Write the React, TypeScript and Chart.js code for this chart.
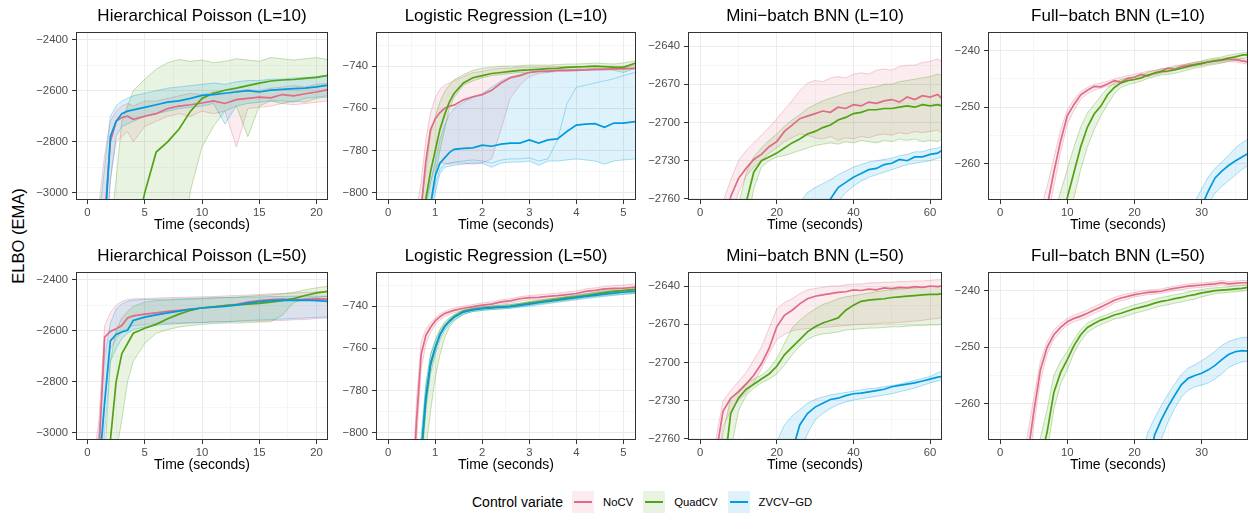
import React, { useEffect, useRef } from 'react';
import { Chart, registerables } from 'chart.js';

Chart.register(...registerables);

const FONT = "'Liberation Sans', Arial, Helvetica, sans-serif";
Chart.defaults.font.family = FONT;

const SERIES_NAMES = ['NoCV', 'QuadCV', 'ZVCV\u2212GD'];
const SERIES_RGB = ['225,106,134', '80,163,21', '0,154,222'];
const SERIES_HEX = ['#E16A86', '#50A315', '#009ADE'];

// ---------- x grids (seconds) ----------
const HP_X = [0, 1, 1.5, 2, 2.5, 3, 3.5, 4, 5, 6, 7, 8, 9, 10, 11, 12, 13, 14, 15, 16, 17, 18, 19, 20, 21];
const LR_X = [0, 0.5, 0.6, 0.7, 0.8, 0.9, 1.0, 1.1, 1.2, 1.3, 1.4, 1.6, 1.8, 2.0, 2.2, 2.4, 2.6, 2.8, 3.0, 3.2, 3.4, 3.6, 3.8, 4.0, 4.2, 4.4, 4.6, 4.8, 5.0, 5.25];
const MB_X = [0, 2, 4, 6, 8, 10, 12, 14, 16, 18, 20, 22, 24, 26, 28, 30, 32, 34, 36, 38, 40, 42, 44, 46, 48, 50, 52, 54, 56, 58, 60, 62, 63];
const FB_X = [0, 2, 4, 5, 6, 7, 8, 9, 10, 11, 12, 13, 14, 15, 16, 17, 18, 19, 20, 21, 22, 23, 24, 25, 26, 27, 28, 29, 30, 31, 32, 33, 34, 35, 36, 36.9];

// ---------- tick labels ----------
const HP_XTICKS = [0, 5, 10, 15, 20];
const HP_XMINOR = [2.5, 7.5, 12.5, 17.5];
const LR_XTICKS = [0, 1, 2, 3, 4, 5];
const LR_XMINOR = [0.5, 1.5, 2.5, 3.5, 4.5];
const MB_XTICKS = [0, 20, 40, 60];
const MB_XMINOR = [10, 30, 50];
const FB_XTICKS = [0, 10, 20, 30];
const FB_XMINOR = [5, 15, 25, 35];
const HP_YTICKS = [-3000, -2800, -2600, -2400];
const HP_YMINOR = [-2900, -2700, -2500];
const LR_YTICKS = [-800, -780, -760, -740];
const LR_YMINOR = [-790, -770, -750, -730];
const MB_YTICKS = [-2760, -2730, -2700, -2670, -2640];
const MB_YMINOR = [-2745, -2715, -2685, -2655];
const FB_YTICKS = [-260, -250, -240];
const FB_YMINOR = [-265, -255, -245];

// ---------- Hierarchical Poisson (L=10) ----------
const HP10_NOCV_MEAN = [-3400, -3300, -3100, -2800, -2720, -2705, -2700, -2712, -2700, -2690, -2670, -2660, -2655, -2648, -2640, -2650, -2635, -2630, -2625, -2628, -2615, -2620, -2612, -2605, -2596];
const HP10_NOCV_LO = [-3500, -3400, -3300, -2950, -2800, -2780, -2760, -2800, -2740, -2720, -2700, -2690, -2700, -2680, -2690, -2680, -2820, -2670, -2665, -2660, -2650, -2655, -2650, -2645, -2640];
const HP10_NOCV_HI = [-3300, -3050, -2850, -2720, -2680, -2660, -2650, -2660, -2640, -2640, -2630, -2620, -2610, -2615, -2605, -2610, -2600, -2595, -2600, -2590, -2585, -2580, -2585, -2575, -2570];
const HP10_QUAD_MEAN = [-3600, -3550, -3500, -3450, -3400, -3350, -3300, -3200, -3000, -2840, -2800, -2750, -2680, -2630, -2610, -2598, -2590, -2580, -2570, -2562, -2558, -2556, -2552, -2548, -2540];
const HP10_QUAD_LO = [-3700, -3650, -3600, -3550, -3500, -3480, -3450, -3420, -3400, -3380, -3350, -3300, -2990, -2820, -2740, -2680, -2660, -2780, -2660, -2640, -2650, -2640, -2645, -2630, -2625];
const HP10_QUAD_HI = [-3600, -3400, -3250, -3150, -2950, -2720, -2660, -2600, -2555, -2515, -2490, -2478, -2485, -2480, -2490, -2485, -2475, -2480, -2485, -2470, -2475, -2480, -2475, -2470, -2478];
const HP10_ZV_MEAN = [-3400, -3300, -3150, -2780, -2720, -2690, -2680, -2675, -2665, -2655, -2645, -2640, -2630, -2618, -2615, -2610, -2605, -2600, -2605, -2598, -2595, -2592, -2590, -2585, -2578];
const HP10_ZV_LO = [-3500, -3400, -3300, -2950, -2780, -2740, -2730, -2720, -2700, -2690, -2680, -2670, -2665, -2660, -2650, -2730, -2660, -2650, -2645, -2640, -2640, -2645, -2630, -2625, -2620];
const HP10_ZV_HI = [-3300, -3100, -2900, -2700, -2660, -2640, -2630, -2620, -2610, -2600, -2590, -2585, -2580, -2575, -2570, -2575, -2565, -2560, -2560, -2555, -2555, -2550, -2548, -2545, -2540];

// ---------- Logistic Regression (L=10) ----------
const LR10_NOCV_MEAN = [-840, -825, -818, -808, -785, -770, -765, -762, -760, -759, -758.5, -756, -754.5, -753.5, -751.5, -748, -745.5, -744.5, -743, -742.5, -742.5, -742, -742, -742, -741.8, -741.5, -741.5, -741.3, -741.2, -741];
const LR10_NOCV_LO = [-850, -835, -828, -820, -805, -795, -788, -786, -786, -786.5, -786, -786, -786.5, -786, -784, -770, -755, -749, -745, -743.5, -743, -742.5, -742.5, -742, -742, -742, -741.8, -741.5, -741.5, -741.5];
const LR10_NOCV_HI = [-830, -815, -808, -795, -775, -762, -755, -751, -749, -748, -747, -745, -743, -742.5, -741.5, -741, -741, -740.5, -740.5, -740.5, -740.3, -740.2, -740.3, -740.2, -740, -740, -740, -740, -740, -739.5];
const LR10_QUAD_MEAN = [-850, -830, -823, -815, -803, -790, -780, -770, -763, -757, -753, -748, -745.5, -744.5, -743.5, -743, -742.5, -742, -741.8, -741.5, -741.2, -741, -740.6, -740.3, -740.2, -740, -740.2, -740.5, -740.6, -738.6];
const LR10_QUAD_LO = [-860, -840, -832, -825, -815, -805, -792, -780, -770, -760, -755, -749, -747, -745.5, -744.5, -744, -743.5, -743, -743, -742.5, -742.5, -742, -742, -741.8, -741.5, -741.5, -741.5, -742, -743, -741];
const LR10_QUAD_HI = [-840, -820, -812, -805, -790, -772, -764, -757, -752, -749, -746.5, -744, -742, -741, -740.5, -740, -740, -739.8, -739.5, -739.5, -739.5, -739.3, -739, -739, -738.8, -738.5, -738.8, -739, -738.5, -737.5];
const LR10_ZV_MEAN = [-860, -840, -832, -825, -815, -806, -792, -786, -783.5, -781, -779.5, -779, -778.8, -777.5, -778, -777, -776.5, -776.5, -775, -776.5, -775, -774.5, -771, -768, -767.5, -767.3, -769, -767, -767, -766.3];
const LR10_ZV_LO = [-870, -850, -842, -835, -822, -812, -800, -791, -788, -787.5, -787, -786.5, -786, -786, -788, -786, -785.5, -785.5, -785, -787, -785, -785, -784.5, -784, -784.5, -785, -786.5, -785, -784.5, -784];
const LR10_ZV_HI = [-850, -830, -822, -815, -805, -795, -785, -775, -768, -763, -760, -757, -755, -753, -750, -747, -745, -744, -743, -742.5, -742, -742, -741.8, -741.5, -741.5, -741.3, -741.2, -741, -741, -741];
const LR10_ZV_RUN = [-865, -845, -840, -830, -818, -808, -796, -789, -786.5, -786, -785.5, -785, -784.5, -785, -786, -784.5, -784, -784, -783.5, -785, -784, -775, -758, -750, -749, -748, -747, -746, -744.5, -743];

// ---------- Mini-batch BNN (L=10) ----------
const MB10_NOCV_MEAN = [-2850, -2830, -2805, -2790, -2758, -2744, -2736, -2729, -2725, -2719, -2715, -2707, -2702, -2697, -2695, -2693, -2691, -2692, -2688, -2689, -2686, -2687, -2684, -2685, -2683, -2682, -2684, -2680, -2682, -2679, -2680, -2678, -2681];
const MB10_NOCV_LO = [-2870, -2850, -2825, -2800, -2775, -2755, -2742, -2735, -2730, -2724, -2720, -2715, -2712, -2709, -2710, -2712, -2713, -2711, -2714, -2712, -2713, -2711, -2712, -2710, -2709, -2710, -2708, -2709, -2707, -2708, -2707, -2706, -2708];
const MB10_NOCV_HI = [-2830, -2810, -2785, -2762, -2745, -2730, -2722, -2716, -2710, -2704, -2697, -2690, -2683, -2675, -2669, -2667, -2668, -2665, -2664, -2665, -2662, -2661, -2662, -2659, -2658, -2659, -2656, -2655, -2655, -2653, -2652, -2650, -2652];
const MB10_QUAD_MEAN = [-2900, -2880, -2860, -2840, -2815, -2790, -2763, -2739, -2730, -2727, -2724, -2720, -2716, -2713, -2709, -2707, -2704, -2702, -2698, -2696, -2693, -2692, -2690, -2690, -2689, -2689, -2688, -2687, -2688, -2686, -2687, -2686, -2687];
const MB10_QUAD_LO = [-2920, -2900, -2880, -2860, -2835, -2810, -2785, -2752, -2735, -2730, -2727, -2726, -2724, -2722, -2720, -2718, -2717, -2716, -2717, -2715, -2716, -2714, -2715, -2716, -2714, -2715, -2713, -2714, -2713, -2715, -2714, -2715, -2713];
const MB10_QUAD_HI = [-2880, -2860, -2840, -2815, -2790, -2765, -2740, -2727, -2720, -2714, -2709, -2703, -2698, -2694, -2689, -2686, -2683, -2681, -2679, -2677, -2676, -2674, -2673, -2672, -2670, -2670, -2668, -2667, -2666, -2665, -2664, -2662, -2663];
const MB10_ZV_MEAN = [-3000, -2990, -2980, -2970, -2955, -2940, -2925, -2910, -2895, -2880, -2860, -2840, -2820, -2805, -2790, -2780, -2770, -2760, -2751, -2747, -2743, -2740, -2737, -2736, -2733, -2732, -2729, -2730, -2727, -2727, -2725, -2724, -2722];
const MB10_ZV_LO = [-3020, -3010, -3000, -2990, -2980, -2965, -2950, -2935, -2920, -2905, -2890, -2870, -2850, -2830, -2810, -2795, -2782, -2770, -2762, -2755, -2750, -2746, -2743, -2741, -2739, -2737, -2735, -2733, -2732, -2731, -2730, -2728, -2727];
const MB10_ZV_HI = [-2980, -2965, -2950, -2935, -2920, -2905, -2890, -2870, -2850, -2830, -2810, -2790, -2775, -2763, -2755, -2751, -2748, -2745, -2741, -2738, -2735, -2733, -2731, -2730, -2729, -2728, -2726, -2725, -2723, -2723, -2721, -2720, -2719];

// ---------- Full-batch BNN (L=10) ----------
const FB10_NOCV_MEAN = [-300, -290, -280, -276, -272, -267.5, -261.5, -256, -251.5, -249.5, -247.8, -247, -246.3, -246.4, -245.9, -245.3, -245.6, -244.9, -244.7, -244.2, -244.5, -243.9, -243.6, -243.1, -243.3, -242.8, -242.6, -242.4, -242.2, -242, -241.8, -241.7, -241.5, -241.6, -241.8, -242];
const FB10_NOCV_LO = [-305, -295, -285, -280.5, -276, -270, -264, -258, -253, -250.5, -248.6, -247.6, -247, -246.6, -246.3, -246, -245.7, -245.3, -245.1, -244.8, -244.4, -244.3, -244, -243.8, -243.3, -243.2, -243, -242.8, -242.6, -242.4, -242.2, -242.1, -241.9, -242, -242.2, -242.4];
const FB10_NOCV_HI = [-295, -285, -275, -271.5, -268, -264, -259, -254, -250.5, -248.6, -247.2, -246.5, -246, -245.7, -245.4, -245, -244.7, -244.4, -244.2, -243.9, -243.6, -243.5, -243.2, -243, -242.6, -242.5, -242.3, -242.1, -241.9, -241.7, -241.5, -241.4, -241.2, -241.3, -241.4, -241.6];
const FB10_QUAD_MEAN = [-310, -300, -290, -286, -282, -278, -274, -270, -266, -261.5, -257, -253.5, -251.2, -249.8, -247.8, -246.5, -245.7, -245.3, -245.1, -244.8, -244.3, -244, -243.7, -243.6, -243.4, -243.1, -242.8, -242.5, -242.3, -242, -241.8, -241.6, -241.3, -241.1, -240.8, -240.7];
const FB10_QUAD_LO = [-315, -305, -295, -291, -287, -283, -279, -275, -271, -266, -261, -257, -254, -251.5, -249.5, -247.6, -246.5, -246, -245.7, -245.4, -244.9, -244.6, -244.3, -244.2, -244, -243.7, -243.4, -243.1, -242.9, -242.6, -242.4, -242.2, -241.9, -241.7, -241.4, -241.2];
const FB10_QUAD_HI = [-305, -295, -285, -281, -277, -273, -269, -265, -261, -257, -253.5, -251, -249.5, -248, -246.6, -245.7, -245.1, -244.8, -244.6, -244.3, -243.8, -243.5, -243.2, -243.1, -242.9, -242.6, -242.3, -242, -241.8, -241.5, -241.3, -241.1, -240.8, -240.6, -240.4, -240.3];
const FB10_ZV_MEAN = [-330, -325, -320, -317.5, -315, -312, -310, -307, -305, -302, -300, -298, -296, -294, -292, -290, -288, -286, -284, -282, -280, -278.5, -277, -275.5, -274, -272.5, -271, -269.5, -267.5, -264.8, -262.5, -261.3, -260.3, -259.5, -258.8, -258.2];
const FB10_ZV_LO = [-332.5, -327.5, -322.5, -320, -317.5, -314.5, -312.5, -309.5, -307.5, -304.5, -302.5, -300.5, -298.5, -296.5, -294.5, -292.5, -290.5, -288.5, -286.5, -284.5, -282.5, -281, -279.5, -278, -276.5, -275, -273.5, -272, -270, -267, -265.2, -264, -263, -262, -261, -260.3];
const FB10_ZV_HI = [-327.5, -322.5, -317.5, -315, -312.5, -309.5, -307.5, -304.5, -302.5, -299.5, -297.5, -295.5, -293.5, -291.5, -289.5, -287.5, -285.5, -283.5, -281.5, -279.5, -277.5, -276, -274.5, -273, -271.5, -270, -268.5, -266.6, -264.5, -262.3, -260.8, -259.7, -258.5, -257.2, -256.3, -255.6];

// ---------- Hierarchical Poisson (L=50) ----------
const HP50_NOCV_MEAN = [-3400, -3080, -2625, -2603, -2592, -2580, -2550, -2542, -2535, -2530, -2524, -2520, -2515, -2511, -2507, -2502, -2497, -2488, -2482, -2478, -2476, -2479, -2477, -2475, -2476];
const HP50_NOCV_LO = [-3500, -3300, -2900, -2674, -2630, -2605, -2590, -2580, -2576, -2572, -2570, -2570, -2568, -2568, -2565, -2565, -2563, -2562, -2562, -2560, -2560, -2557, -2556, -2552, -2550];
const HP50_NOCV_HI = [-3300, -2950, -2580, -2530, -2500, -2485, -2478, -2475, -2474, -2472, -2470, -2470, -2468, -2467, -2466, -2464, -2462, -2460, -2458, -2455, -2455, -2452, -2450, -2448, -2446];
const HP50_QUAD_MEAN = [-3600, -3400, -3250, -3030, -2800, -2690, -2650, -2610, -2590, -2575, -2553, -2535, -2520, -2510, -2506, -2502, -2499, -2496, -2493, -2488, -2482, -2474, -2462, -2452, -2446];
const HP50_QUAD_LO = [-3700, -3500, -3350, -3200, -3080, -2950, -2800, -2720, -2650, -2610, -2596, -2585, -2580, -2575, -2572, -2570, -2570, -2568, -2566, -2565, -2540, -2490, -2475, -2470, -2465];
const HP50_QUAD_HI = [-3500, -3300, -3100, -2720, -2600, -2550, -2525, -2505, -2488, -2482, -2480, -2478, -2476, -2475, -2472, -2470, -2468, -2465, -2462, -2460, -2455, -2450, -2440, -2432, -2426];
const HP50_ZV_MEAN = [-3400, -3150, -2880, -2640, -2615, -2605, -2598, -2560, -2547, -2538, -2530, -2523, -2516, -2511, -2508, -2505, -2500, -2492, -2486, -2482, -2480, -2481, -2480, -2482, -2485];
const HP50_ZV_LO = [-3500, -3350, -3000, -2720, -2670, -2630, -2610, -2595, -2585, -2578, -2575, -2572, -2570, -2568, -2566, -2565, -2563, -2560, -2558, -2556, -2555, -2552, -2550, -2548, -2546];
const HP50_ZV_HI = [-3300, -3000, -2700, -2570, -2515, -2495, -2485, -2480, -2478, -2477, -2476, -2475, -2474, -2472, -2471, -2470, -2470, -2468, -2468, -2466, -2466, -2465, -2464, -2465, -2465];

// ---------- Logistic Regression (L=50) ----------
const LR50_NOCV_MEAN = [-850, -840, -795, -763, -754, -750, -747, -745, -743.5, -742.7, -742, -741, -740.2, -739.5, -739, -738, -737.5, -736.5, -736, -735.8, -735.4, -735, -734.5, -734, -733, -732.5, -731.8, -731.6, -731.5, -731];
const LR50_NOCV_LO = [-855, -850, -805, -770, -758, -752.5, -749, -746.5, -745, -744, -743.2, -742, -741.2, -740.5, -740, -739, -738.6, -737.6, -737, -737, -736.6, -736.2, -735.7, -735.2, -734.2, -733.7, -733, -732.8, -732.7, -732.3];
const LR50_NOCV_HI = [-845, -830, -785, -757, -751, -748, -745.5, -743.8, -742.5, -741.6, -741, -740, -739.2, -738.5, -738, -737, -736.5, -735.5, -735, -734.6, -734.2, -733.8, -733.3, -732.8, -731.8, -731.3, -730.6, -730.3, -730, -729.5];
const LR50_QUAD_MEAN = [-860, -845, -830, -812, -785, -768, -760, -753.5, -749.5, -747, -745, -742.5, -741.5, -741, -740.6, -740.3, -740, -739.3, -738.6, -738, -737.4, -736.8, -736.1, -735.6, -735, -734.3, -733.6, -733, -732.6, -732];
const LR50_QUAD_LO = [-870, -855, -842, -828, -808, -790, -774, -763, -755, -750, -747, -744, -742.5, -742, -741.6, -741.3, -741, -740.3, -739.6, -739, -738.4, -737.8, -737.2, -736.7, -736, -735.5, -735, -734.6, -734.2, -734];
const LR50_QUAD_HI = [-855, -840, -822, -805, -778, -763, -756, -751, -747.5, -745.5, -744, -741.8, -740.8, -740.3, -740, -739.6, -739.2, -738.5, -737.8, -737.2, -736.6, -736, -735.3, -734.7, -734, -733.3, -732.5, -732, -731.5, -731];
const LR50_ZV_MEAN = [-860, -845, -828, -810, -783, -767, -759.5, -753.5, -749.8, -747.3, -745.3, -742.8, -741.8, -741.2, -740.8, -740.5, -740.2, -739.6, -739, -738.4, -737.8, -737.2, -736.6, -736, -735.4, -734.9, -734.3, -733.8, -733.4, -733];
const LR50_ZV_LO = [-865, -850, -836, -818, -790, -772, -763, -756, -751.5, -748.8, -746.5, -743.8, -742.6, -742, -741.6, -741.3, -741, -740.5, -740, -739.4, -738.8, -738.2, -737.6, -737, -736.4, -735.9, -735.4, -734.9, -734.5, -734];
const LR50_ZV_HI = [-855, -840, -820, -802, -777, -763, -756.5, -751.5, -748.3, -746, -744.3, -742, -741, -740.4, -740, -739.6, -739.3, -738.6, -738, -737.4, -736.8, -736.2, -735.6, -735, -734.4, -733.8, -733.2, -732.7, -732.3, -732];

// ---------- Mini-batch BNN (L=50) ----------
const MB50_NOCV_MEAN = [-2830, -2800, -2775, -2738, -2728, -2723, -2717, -2710, -2701, -2689, -2672, -2663, -2659, -2654, -2650, -2648, -2647, -2646, -2645, -2644.5, -2643, -2643.5, -2642.5, -2643, -2641.5, -2642, -2641, -2641.5, -2640.5, -2641, -2640, -2640.5, -2640];
const MB50_NOCV_LO = [-2845, -2815, -2790, -2750, -2738, -2730, -2724, -2716, -2705, -2693, -2682, -2678, -2675, -2674, -2673.5, -2673, -2672.5, -2672, -2671.5, -2671, -2670.5, -2670, -2670, -2669.5, -2669, -2669, -2668.5, -2668, -2667.5, -2667, -2666, -2665.5, -2665];
const MB50_NOCV_HI = [-2815, -2790, -2762, -2730, -2722, -2715, -2708, -2698, -2688, -2673, -2658, -2653, -2650, -2646, -2643, -2642, -2641, -2640, -2640, -2639, -2638.5, -2638.5, -2637.5, -2637.5, -2637, -2637, -2636.5, -2636.5, -2636, -2636, -2635.5, -2635, -2635];
const MB50_QUAD_MEAN = [-2860, -2830, -2800, -2790, -2740, -2728, -2721, -2717, -2713, -2709, -2703, -2694, -2688, -2682, -2676, -2672, -2669, -2667, -2665, -2659, -2655, -2652, -2651, -2650.5, -2650, -2649, -2648.5, -2648, -2647.5, -2647, -2646.5, -2646.5, -2646];
const MB50_QUAD_LO = [-2875, -2845, -2815, -2795, -2770, -2738, -2726, -2720, -2716, -2713, -2709, -2702, -2694, -2687, -2682, -2679, -2677.5, -2677, -2676, -2674.5, -2674, -2673.5, -2673, -2673, -2672.5, -2672, -2672, -2671.5, -2671, -2671, -2670.5, -2670.5, -2670];
const MB50_QUAD_HI = [-2845, -2815, -2790, -2755, -2728, -2722, -2716, -2713, -2710, -2705, -2697, -2685, -2673, -2667, -2662, -2658, -2654.5, -2652.5, -2650, -2648.5, -2647.5, -2646.5, -2645.5, -2644.5, -2643.5, -2643, -2642.5, -2642, -2641.5, -2641, -2640.5, -2640.3, -2640];
const MB50_ZV_MEAN = [-2950, -2940, -2930, -2920, -2905, -2890, -2875, -2860, -2845, -2825, -2805, -2790, -2770, -2749, -2740, -2735, -2732, -2729, -2728, -2726, -2724.5, -2724, -2723, -2722, -2721, -2719, -2718, -2717, -2716, -2714.5, -2713, -2711.5, -2711];
const MB50_ZV_LO = [-2970, -2960, -2950, -2940, -2930, -2915, -2900, -2885, -2870, -2850, -2830, -2810, -2790, -2770, -2756, -2745, -2740, -2736, -2733, -2731, -2729.5, -2728.5, -2727.5, -2726.5, -2725.5, -2724.5, -2723, -2721.5, -2720, -2718, -2716, -2714.5, -2713.5];
const MB50_ZV_HI = [-2930, -2920, -2905, -2890, -2875, -2860, -2845, -2825, -2805, -2785, -2762, -2749, -2742, -2737, -2732, -2729, -2727, -2725.5, -2724.5, -2723.5, -2722.5, -2721.5, -2720.5, -2720, -2719, -2718, -2717, -2715.5, -2714, -2712.5, -2711, -2708, -2707];

// ---------- Full-batch BNN (L=50) ----------
const FB50_NOCV_MEAN = [-300, -285, -270, -261.5, -254, -250, -247.8, -246.5, -245.5, -244.9, -244.5, -244, -243.4, -242.9, -242.3, -241.7, -241.3, -241, -240.7, -240.5, -240.3, -240.2, -240.1, -239.8, -239.6, -239.4, -239.2, -239.1, -239, -238.9, -238.8, -238.6, -238.8, -238.7, -238.6, -238.6];
const FB50_NOCV_LO = [-304, -289, -274, -264, -256, -251.2, -248.6, -247.2, -246.1, -245.5, -245.1, -244.6, -244, -243.5, -242.9, -242.2, -241.8, -241.5, -241.1, -240.9, -240.7, -240.6, -240.5, -240.2, -240, -239.8, -239.6, -239.5, -239.4, -239.3, -239.2, -239, -239.2, -239.1, -239, -239];
const FB50_NOCV_HI = [-296, -281, -266, -259, -252.5, -249, -247, -245.8, -244.9, -244.3, -243.9, -243.4, -242.8, -242.3, -241.7, -241.2, -240.8, -240.5, -240.3, -240.1, -239.9, -239.8, -239.7, -239.4, -239.2, -239, -238.8, -238.7, -238.6, -238.5, -238.4, -238.2, -238.4, -238.3, -238.2, -238.2];
const FB50_QUAD_MEAN = [-310, -295, -282, -276, -270, -265, -258, -254.5, -252.2, -249.7, -247.8, -246.5, -245.8, -245.2, -244.8, -244.3, -244, -243.6, -243.2, -242.9, -242.6, -242.2, -241.9, -241.7, -241.4, -241.2, -240.9, -240.7, -240.4, -240.2, -240, -239.9, -239.8, -239.7, -239.6, -239.4];
const FB50_QUAD_LO = [-314, -299, -286, -280, -274, -268.5, -261, -256.5, -254, -251, -248.9, -247.4, -246.6, -246, -245.5, -245, -244.8, -244.4, -244, -243.7, -243.4, -243, -242.7, -242.5, -242.2, -242, -241.7, -241.5, -241.1, -240.8, -240.5, -240.4, -240.3, -240.2, -240.1, -239.9];
const FB50_QUAD_HI = [-306, -291, -278, -272, -266, -261, -255, -252.5, -250.8, -248.6, -246.9, -245.7, -245.1, -244.6, -244.2, -243.7, -243.3, -242.9, -242.5, -242.2, -241.9, -241.5, -241.2, -241, -240.7, -240.5, -240.2, -240, -239.8, -239.6, -239.5, -239.4, -239.3, -239.2, -239.1, -239];
const FB50_ZV_MEAN = [-340, -333, -326, -322, -319, -316, -313, -310, -307, -304, -301, -298, -295, -292, -289, -286, -283, -280, -277, -274, -271, -265.5, -262.8, -260.5, -258.5, -256.6, -255.5, -255, -254.6, -254, -253.2, -252.2, -251.3, -250.8, -250.6, -250.7];
const FB50_ZV_LO = [-343, -336, -329, -325, -322, -319, -316, -313, -310, -307, -304, -301, -298, -295, -292, -289, -286, -283, -280, -277, -274, -270, -266.3, -263.2, -260.8, -258.8, -257.6, -257, -256.7, -256.3, -255.6, -254.7, -253.6, -253, -252.6, -252.5];
const FB50_ZV_HI = [-337, -330, -323, -319, -316, -313, -310, -307, -304, -301, -298, -295, -292, -289, -286, -283, -280, -277, -274, -269, -265, -262.5, -260.3, -258.3, -256.5, -254.8, -253.7, -253.1, -252.4, -251.6, -250.7, -249.7, -249, -248.6, -248.3, -248.2];

// ---------- layout ----------
const COLS = [
  { L: 76, R: 328 },
  { L: 376, R: 636 },
  { L: 688, R: 942 },
  { L: 988, R: 1248 },
];
const ROW_TOP = [0, 240];
const Y_AXIS_W = 46;
const RIGHT_PAD = 3;
const CANVAS_H = 240;
const X_AXIS_H = 40;

type Panel = {
  title: string;
  col: number;
  row: number;
  xs: number[];
  xr: number[];
  xt: number[];
  xm: number[];
  yr: number[];
  yt: number[];
  ym: number[];
  bands: number[][][]; // per series: [lo, hi, mean]
  runs: number[][][]; // per series: extra faint runs
};

const PANELS: Panel[] = [
  {
    title: 'Hierarchical Poisson (L=10)', col: 0, row: 0, xs: HP_X, xr: [-1, 21], xt: HP_XTICKS, xm: HP_XMINOR,
    yr: [-3028, -2370], yt: HP_YTICKS, ym: HP_YMINOR,
    bands: [[HP10_NOCV_LO, HP10_NOCV_HI, HP10_NOCV_MEAN], [HP10_QUAD_LO, HP10_QUAD_HI, HP10_QUAD_MEAN], [HP10_ZV_LO, HP10_ZV_HI, HP10_ZV_MEAN]],
    runs: [[], [], []],
  },
  {
    title: 'Logistic Regression (L=10)', col: 1, row: 0, xs: LR_X, xr: [-0.26, 5.27], xt: LR_XTICKS, xm: LR_XMINOR,
    yr: [-803.5, -723.8], yt: LR_YTICKS, ym: LR_YMINOR,
    bands: [[LR10_NOCV_LO, LR10_NOCV_HI, LR10_NOCV_MEAN], [LR10_QUAD_LO, LR10_QUAD_HI, LR10_QUAD_MEAN], [LR10_ZV_LO, LR10_ZV_HI, LR10_ZV_MEAN]],
    runs: [[], [], [LR10_ZV_RUN]],
  },
  {
    title: 'Mini\u2212batch BNN (L=10)', col: 2, row: 0, xs: MB_X, xr: [-3.15, 63.1], xt: MB_XTICKS, xm: MB_XMINOR,
    yr: [-2760.8, -2629], yt: MB_YTICKS, ym: MB_YMINOR,
    bands: [[MB10_NOCV_LO, MB10_NOCV_HI, MB10_NOCV_MEAN], [MB10_QUAD_LO, MB10_QUAD_HI, MB10_QUAD_MEAN], [MB10_ZV_LO, MB10_ZV_HI, MB10_ZV_MEAN]],
    runs: [[], [], []],
  },
  {
    title: 'Full\u2212batch BNN (L=10)', col: 3, row: 0, xs: FB_X, xr: [-1.8, 36.9], xt: FB_XTICKS, xm: FB_XMINOR,
    yr: [-266.4, -236.7], yt: FB_YTICKS, ym: FB_YMINOR,
    bands: [[FB10_NOCV_LO, FB10_NOCV_HI, FB10_NOCV_MEAN], [FB10_QUAD_LO, FB10_QUAD_HI, FB10_QUAD_MEAN], [FB10_ZV_LO, FB10_ZV_HI, FB10_ZV_MEAN]],
    runs: [[], [], []],
  },
  {
    title: 'Hierarchical Poisson (L=50)', col: 0, row: 1, xs: HP_X, xr: [-1, 21], xt: HP_XTICKS, xm: HP_XMINOR,
    yr: [-3028, -2370], yt: HP_YTICKS, ym: HP_YMINOR,
    bands: [[HP50_NOCV_LO, HP50_NOCV_HI, HP50_NOCV_MEAN], [HP50_QUAD_LO, HP50_QUAD_HI, HP50_QUAD_MEAN], [HP50_ZV_LO, HP50_ZV_HI, HP50_ZV_MEAN]],
    runs: [[], [], []],
  },
  {
    title: 'Logistic Regression (L=50)', col: 1, row: 1, xs: LR_X, xr: [-0.26, 5.27], xt: LR_XTICKS, xm: LR_XMINOR,
    yr: [-803.5, -723.8], yt: LR_YTICKS, ym: LR_YMINOR,
    bands: [[LR50_NOCV_LO, LR50_NOCV_HI, LR50_NOCV_MEAN], [LR50_QUAD_LO, LR50_QUAD_HI, LR50_QUAD_MEAN], [LR50_ZV_LO, LR50_ZV_HI, LR50_ZV_MEAN]],
    runs: [[], [], []],
  },
  {
    title: 'Mini\u2212batch BNN (L=50)', col: 2, row: 1, xs: MB_X, xr: [-3.15, 63.1], xt: MB_XTICKS, xm: MB_XMINOR,
    yr: [-2760.8, -2629], yt: MB_YTICKS, ym: MB_YMINOR,
    bands: [[MB50_NOCV_LO, MB50_NOCV_HI, MB50_NOCV_MEAN], [MB50_QUAD_LO, MB50_QUAD_HI, MB50_QUAD_MEAN], [MB50_ZV_LO, MB50_ZV_HI, MB50_ZV_MEAN]],
    runs: [[], [], []],
  },
  {
    title: 'Full\u2212batch BNN (L=50)', col: 3, row: 1, xs: FB_X, xr: [-1.8, 36.9], xt: FB_XTICKS, xm: FB_XMINOR,
    yr: [-266.4, -236.7], yt: FB_YTICKS, ym: FB_YMINOR,
    bands: [[FB50_NOCV_LO, FB50_NOCV_HI, FB50_NOCV_MEAN], [FB50_QUAD_LO, FB50_QUAD_HI, FB50_QUAD_MEAN], [FB50_ZV_LO, FB50_ZV_HI, FB50_ZV_MEAN]],
    runs: [[], [], []],
  },
];

const near = (a: number, list: number[]) => list.some((m) => Math.abs(m - a) < 1e-6);
const fmt = (v: number) => (v < 0 ? '\u2212' + String(Math.abs(v)) : String(v));

function axis(range: number[], majors: number[], minors: number[], isX: boolean) {
  const all = [...majors, ...minors].sort((a, b) => a - b);
  return {
    type: 'linear',
    bounds: 'data',
    min: range[0],
    max: range[1],
    afterBuildTicks: (sc: any) => {
      sc.ticks = all.map((v) => ({ value: v }));
    },
    afterFit: (sc: any) => {
      if (isX) sc.height = X_AXIS_H;
      else sc.width = Y_AXIS_W;
    },
    ticks: {
      autoSkip: false,
      maxRotation: 0,
      minRotation: 0,
      padding: isX ? 2 : 4,
      color: '#4D4D4D',
      font: { size: 11.3, family: FONT },
      callback: (v: number) => (near(v, majors) ? fmt(v) : ''),
    },
    grid: {
      drawOnChartArea: true,
      drawTicks: true,
      tickLength: 4,
      color: (c: any) => (c.tick && near(c.tick.value, majors) ? '#EBEBEB' : '#F0F0F0'),
      lineWidth: (c: any) => (c.tick && near(c.tick.value, majors) ? 1 : 0.6),
      tickColor: (c: any) => (c.tick && near(c.tick.value, majors) ? '#333333' : 'rgba(0,0,0,0)'),
      tickWidth: 1,
    },
    border: { display: false },
    title: isX
      ? { display: true, text: 'Time (seconds)', color: '#000000', font: { size: 14, family: FONT }, padding: { top: 0, bottom: 6 } }
      : { display: false },
  };
}

const panelBorder = {
  id: 'panelBorder',
  afterDatasetsDraw(chart: any) {
    const a = chart.chartArea;
    const ctx = chart.ctx;
    ctx.save();
    ctx.strokeStyle = '#333333';
    ctx.lineWidth = 1;
    ctx.strokeRect(Math.round(a.left) + 0.5, Math.round(a.top) + 0.5, Math.round(a.right - a.left) - 1, Math.round(a.bottom - a.top) - 1);
    ctx.restore();
  },
};

function buildDatasets(p: Panel) {
  const pts = (ys: number[]) => p.xs.map((x, i) => ({ x, y: ys[i] }));
  const ds: any[] = [];
  p.bands.forEach((band, s) => {
    const rgb = SERIES_RGB[s];
    const faint = `rgba(${rgb},0.32)`;
    const [lo, hi] = band;
    ds.push({ label: SERIES_NAMES[s] + ' lo', data: pts(lo), borderColor: faint, borderWidth: 1, pointRadius: 0, fill: false, order: 30 - s, clip: 0 });
    ds.push({ label: SERIES_NAMES[s] + ' hi', data: pts(hi), borderColor: faint, borderWidth: 1, pointRadius: 0, fill: '-1', backgroundColor: `rgba(${rgb},0.13)`, order: 30 - s, clip: 0 });
    p.runs[s].forEach((r) => {
      ds.push({ label: SERIES_NAMES[s] + ' run', data: pts(r), borderColor: faint, borderWidth: 1, pointRadius: 0, fill: false, order: 20 - s, clip: 0 });
    });
  });
  p.bands.forEach((band, s) => {
    ds.push({ label: SERIES_NAMES[s], data: pts(band[2]), borderColor: SERIES_HEX[s], borderWidth: 1.7, pointRadius: 0, fill: false, order: 10 - s, clip: 0 });
  });
  return ds;
}

function PanelChart({ p }: { p: Panel }) {
  const ref = useRef<HTMLCanvasElement>(null);
  const col = COLS[p.col];
  const left = col.L - Y_AXIS_W;
  const width = col.R - left + RIGHT_PAD;
  const top = ROW_TOP[p.row];

  useEffect(() => {
    if (!ref.current) return;
    const chart = new Chart(ref.current, {
      type: 'line',
      data: { datasets: buildDatasets(p) },
      options: {
        animation: false,
        responsive: false,
        events: [],
        layout: { padding: { left: 0, right: RIGHT_PAD, top: 0, bottom: 0 } },
        elements: { line: { tension: 0 } },
        plugins: {
          legend: { display: false },
          tooltip: { enabled: false },
          title: {
            display: true,
            fullSize: false,
            text: p.title,
            color: '#000000',
            font: { size: 17, weight: 'normal', family: FONT },
            padding: { top: 6, bottom: 5.6 },
          },
        },
        scales: {
          x: axis(p.xr, p.xt, p.xm, true) as any,
          y: axis(p.yr, p.yt, p.ym, false) as any,
        },
      } as any,
      plugins: [panelBorder],
    });
    return () => chart.destroy();
  }, []);

  return (
    <canvas
      ref={ref}
      width={width}
      height={CANVAS_H}
      style={{ position: 'absolute', left, top, width, height: CANVAS_H }}
    />
  );
}

function Legend() {
  return (
    <div style={{ position: 'absolute', left: 472, top: 490, height: 23, display: 'flex', alignItems: 'center', fontFamily: FONT, color: '#000' }}>
      <span style={{ fontSize: 14, marginRight: 9 }}>Control variate</span>
      {SERIES_NAMES.map((n, i) => (
        <React.Fragment key={n}>
          <span style={{ position: 'relative', display: 'inline-block', width: 22, height: 22, background: `rgba(${SERIES_RGB[i]},0.13)` }}>
            <span style={{ position: 'absolute', left: 2, right: 2, top: 10, height: 2, background: SERIES_HEX[i] }} />
          </span>
          <span style={{ fontSize: 11.3, marginLeft: 9, marginRight: 10 }}>{n}</span>
        </React.Fragment>
      ))}
    </div>
  );
}

export default function App() {
  return (
    <div style={{ position: 'fixed', left: 0, top: 0, width: 1252, height: 513, background: '#ffffff', overflow: 'hidden', fontFamily: FONT }}>
      {PANELS.map((p, i) => (
        <PanelChart key={i} p={p} />
      ))}
      <div
        style={{
          position: 'absolute',
          left: 18 - 100,
          top: 236 - 10,
          width: 200,
          height: 20,
          lineHeight: '20px',
          textAlign: 'center',
          fontSize: 16.5,
          color: '#000',
          transform: 'rotate(-90deg)',
        }}
      >
        ELBO (EMA)
      </div>
      <Legend />
    </div>
  );
}
